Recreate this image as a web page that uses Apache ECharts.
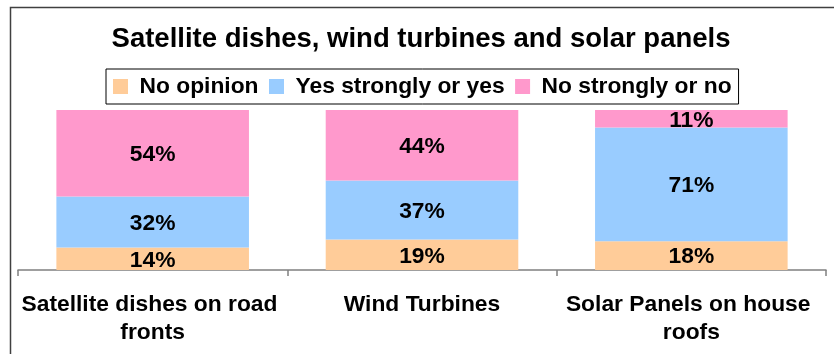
<!DOCTYPE html>
<html>
<head>
<meta charset="utf-8">
<script src="https://cdn.jsdelivr.net/npm/echarts@6/dist/echarts.min.js"></script>
<style>
  html, body { margin: 0; padding: 0; background: #fff; }
  #chart { width: 834px; height: 354px; }
</style>
</head>
<body>
<div id="chart"></div>
<script>
// Survey results: approval of each type of installation (percent of respondents)
var categories = ['Satellite dishes on road fronts', 'Wind Turbines', 'Solar Panels on house roofs'];
var noOpinion = [14, 19, 18];
var yesStrongly = [32, 37, 71];
var noStrongly = [54, 44, 11];
var seriesNames = ['No opinion', 'Yes strongly or yes', 'No strongly or no'];
var seriesColors = ['#FFCC99', '#99CCFF', '#FF99CC'];

var FONT = '"Liberation Sans", Arial, sans-serif';
var TEXT_SIZE = 22.8;

var chart = echarts.init(document.getElementById('chart'), null, { renderer: 'canvas' });

function makeSeries(name, data, color) {
  return {
    name: name,
    type: 'bar',
    stack: 'total',
    barWidth: '71.5%',
    data: data,
    itemStyle: { color: color },
    label: {
      show: true,
      position: 'inside',
      offset: [0, 1.5],
      formatter: '{c}%',
      color: '#000',
      fontFamily: FONT,
      fontWeight: 'bold',
      fontSize: TEXT_SIZE
    },
    emphasis: { disabled: true }
  };
}

chart.setOption({
  animation: false,
  backgroundColor: '#fff',
  title: {
    text: 'Satellite dishes, wind turbines and solar panels',
    left: 421,
    top: 25,
    padding: 0,
    textAlign: 'center',
    textStyle: {
      fontFamily: FONT,
      fontWeight: 'bold',
      fontSize: 27.5,
      color: '#000'
    }
  },
  legend: {
    data: seriesNames,
    left: 106,
    top: 69,
    orient: 'horizontal',
    padding: [6, 7, 6, 7],
    itemWidth: 15,
    itemHeight: 15,
    itemGap: 10.5,
    borderColor: '#000',
    borderWidth: 1,
    icon: 'rect',
    selectedMode: false,
    textStyle: {
      fontFamily: FONT,
      fontWeight: 'bold',
      fontSize: TEXT_SIZE,
      color: '#000',
      padding: [0, 0, 0, 6.5],
      lineHeight: 17
    }
  },
  grid: {
    left: 18,
    right: 8,
    top: 110,
    bottom: 84,
    containLabel: false
  },
  xAxis: {
    type: 'category',
    data: categories,
    axisLine: { lineStyle: { color: '#808080', width: 1.5 } },
    axisTick: { show: true, length: 6, lineStyle: { color: '#808080', width: 1.5 } },
    axisLabel: {
      interval: 0,
      margin: 21,
      width: 264,
      overflow: 'break',
      lineHeight: 28,
      color: '#000',
      fontFamily: FONT,
      fontWeight: 'bold',
      fontSize: TEXT_SIZE
    }
  },
  yAxis: {
    type: 'value',
    min: 0,
    max: 100,
    show: false,
    splitLine: { show: false }
  },
  graphic: [{
    type: 'rect',
    shape: { x: 10.5, y: 7.5, width: 900, height: 400 },
    style: { fill: 'none', stroke: '#404040', lineWidth: 1.5 },
    silent: true,
    z: 100
  }],
  series: [
    makeSeries(seriesNames[0], noOpinion, seriesColors[0]),
    makeSeries(seriesNames[1], yesStrongly, seriesColors[1]),
    makeSeries(seriesNames[2], noStrongly, seriesColors[2])
  ]
});
</script>
</body>
</html>
